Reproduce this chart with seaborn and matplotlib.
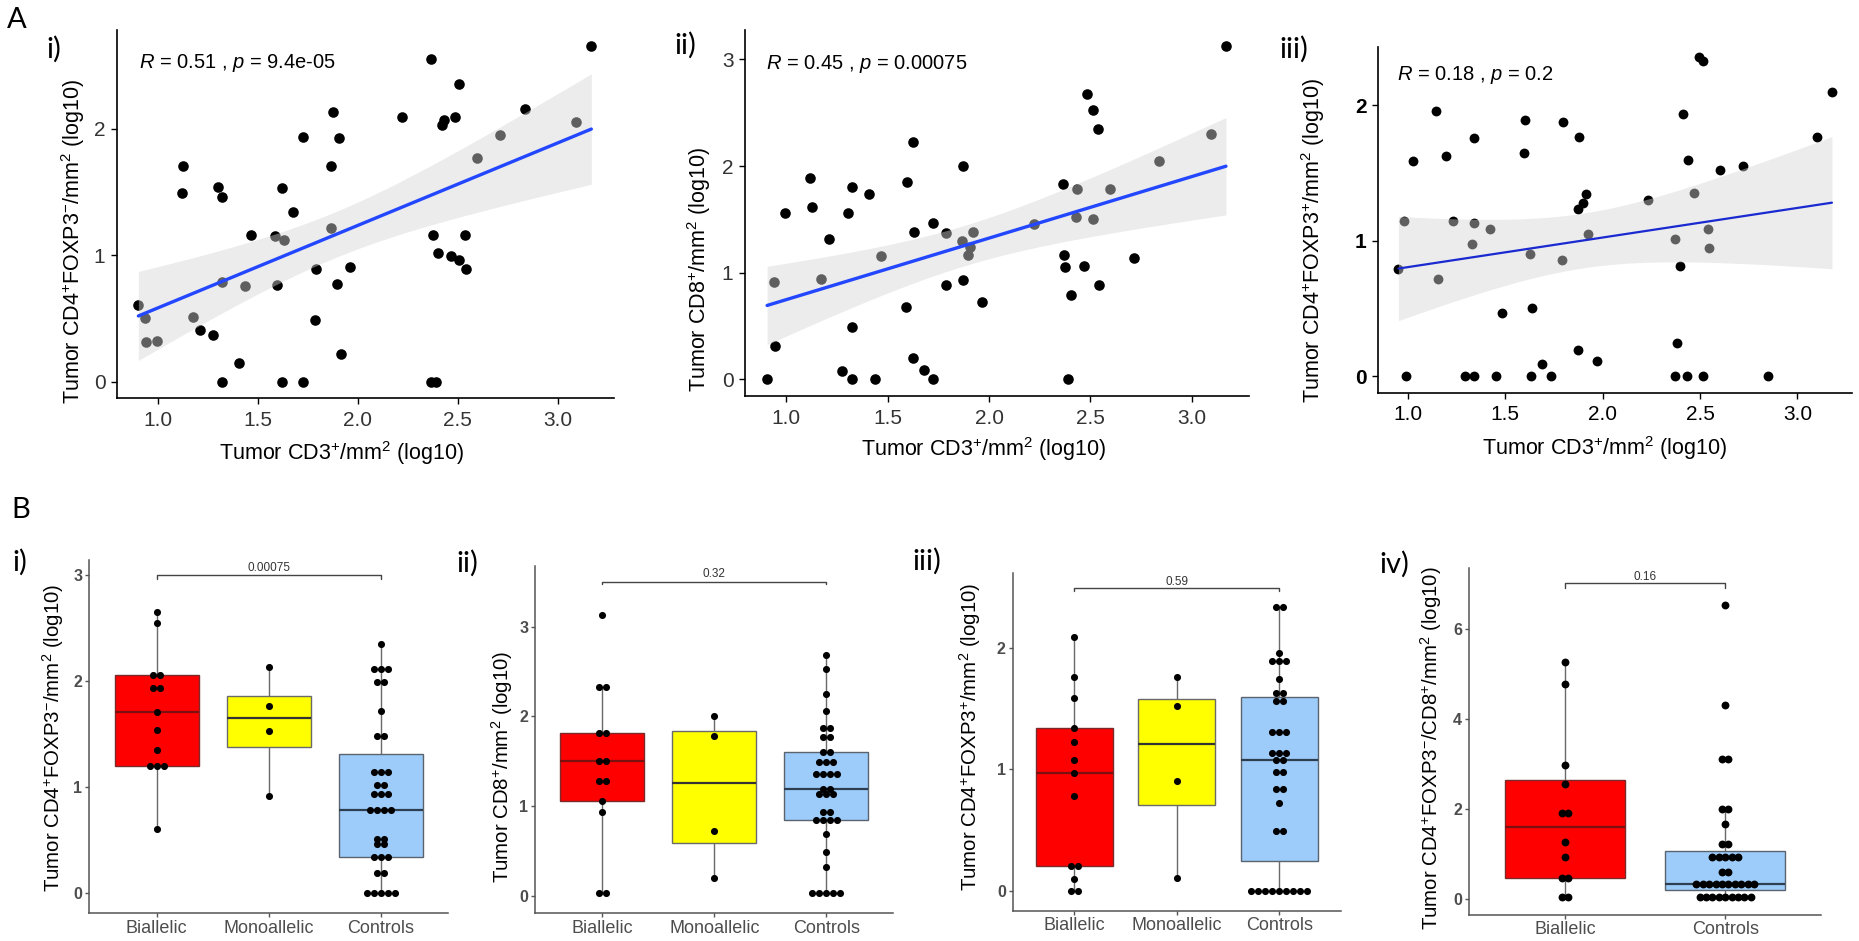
import numpy as np
import pandas as pd
import matplotlib
matplotlib.use('Agg')
import matplotlib.pyplot as plt
import seaborn as sns

sns.set_theme(style='white')
plt.rcParams['font.family'] = ['Liberation Sans', 'DejaVu Sans']
plt.rcParams['mathtext.fontset'] = 'custom'
plt.rcParams['mathtext.rm'] = 'Liberation Sans'
plt.rcParams['mathtext.it'] = 'Liberation Sans:italic'
plt.rcParams['mathtext.bf'] = 'Liberation Sans:bold'

# ---------------- DATA ----------------
# Panel A i : CD3 vs CD4+FOXP3-
ai_x = [3.168, 2.364, 2.508, 1.874, 2.221, 2.430, 2.420, 2.484, 2.838, 1.723,
        1.903, 1.866, 1.123, 1.117, 1.302, 1.320, 1.621, 1.676, 1.466, 2.374,
        2.534, 2.401, 2.464, 2.508, 2.540, 1.789, 1.962, 1.593, 1.895, 0.901,
        1.211, 1.275, 1.785, 1.405, 1.917, 1.322, 1.621, 1.723, 2.364, 2.391,
        3.093, 2.713, 2.597, 1.866, 1.587, 1.628, 1.320, 1.437, 0.935, 1.172,
        0.941, 0.994]
ai_y = [2.657, 2.551, 2.354, 2.135, 2.092, 2.070, 2.030, 2.092, 2.153, 1.937,
        1.929, 1.704, 1.704, 1.496, 1.538, 1.462, 1.530, 1.343, 1.158, 1.164,
        1.164, 1.016, 0.997, 0.963, 0.889, 0.894, 0.908, 0.765, 0.776, 0.610,
        0.414, 0.372, 0.488, 0.150, 0.222, 0.0, 0.0, 0.0, 0.0, 0.0,
        2.050, 1.950, 1.770, 1.219, 1.156, 1.121, 0.792, 0.760, 0.509, 0.515,
        0.317, 0.325]

# Panel A ii : CD3 vs CD8
aii_x = [3.168, 2.485, 2.511, 2.536, 1.624, 1.873, 1.117, 1.595, 1.322, 1.407,
         2.365, 0.996, 1.304, 1.127, 1.211, 1.723, 1.630, 2.368, 2.376, 2.468,
         2.715, 1.786, 1.870, 2.540, 2.404, 1.965, 1.589, 0.943, 1.322, 1.624,
         1.277, 1.678, 0.906, 1.324, 1.439, 1.723, 2.390,
         3.094, 2.840, 2.433, 2.598, 2.427, 2.511, 2.222, 1.789, 1.920, 1.867,
         1.904, 1.897, 1.468, 1.173, 0.938]
aii_y = [3.125, 2.675, 2.525, 2.344, 2.228, 1.997, 1.888, 1.850, 1.806, 1.738,
         1.831, 1.563, 1.563, 1.619, 1.319, 1.463, 1.381, 1.169, 1.056, 1.063,
         1.134, 0.881, 0.931, 0.888, 0.794, 0.725, 0.681, 0.313, 0.488, 0.197,
         0.075, 0.088, 0.0, 0.0, 0.0, 0.0, 0.0,
         2.300, 2.050, 1.788, 1.781, 1.519, 1.506, 1.456, 1.369, 1.384, 1.300,
         1.244, 1.169, 1.156, 0.938, 0.909]

# Panel A iii : CD3 vs CD4+FOXP3+
aiii_x = [2.492, 2.513, 3.177, 1.146, 1.603, 1.798, 2.411, 1.341, 1.879, 3.102,
          1.028, 1.197, 1.597, 2.436, 2.604, 2.720, 1.916, 1.900, 1.873, 2.230,
          2.397, 1.481, 1.638, 2.379, 1.873, 1.973, 1.690, 0.988, 1.294, 1.341,
          1.451, 1.631, 1.733, 2.371, 2.431, 2.515, 2.848,
          2.468, 0.980, 1.231, 1.341, 1.422, 2.539, 1.924, 2.373, 1.327, 2.545,
          1.629, 1.792, 1.152, 0.951]
aiii_y = [2.360, 2.330, 2.101, 1.958, 1.889, 1.877, 1.938, 1.759, 1.768, 1.768,
          1.586, 1.628, 1.648, 1.596, 1.525, 1.549, 1.347, 1.276, 1.236, 1.298,
          0.815, 0.463, 0.502, 0.241, 0.192, 0.111, 0.089, 0.0, 0.0, 0.0,
          0.0, 0.0, 0.0, 0.0, 0.0, 0.0, 0.0,
          1.355, 1.143, 1.148, 1.128, 1.084, 1.084, 1.047, 1.015, 0.973, 0.943,
          0.901, 0.857, 0.714, 0.788]

stat_labels = [r'$R$ = 0.51 , $p$ = 9.4e-05',
               r'$R$ = 0.45 , $p$ = 0.00075',
               r'$R$ = 0.18 , $p$ = 0.2']

# Panel B : groups
groups3 = ['Biallelic', 'Monoallelic', 'Controls']
groups2 = ['Biallelic', 'Controls']

bi_biallelic = [2.654, 2.550, 2.055, 2.055, 1.935, 1.935, 1.711, 1.538, 1.346,
                1.194, 1.194, 1.194, 0.605]
bi_mono = [2.134, 1.768, 1.532, 0.914]
bi_controls = [2.351, 2.115, 2.115, 2.115, 1.989, 1.989, 1.718, 1.484, 1.484,
               1.144, 1.144, 1.144, 1.018, 1.018, 0.930, 0.930, 0.930,
               0.785, 0.785, 0.785, 0.785, 0.511, 0.511, 0.460, 0.460,
               0.340, 0.340, 0.340, 0.189, 0.189, 0.0, 0.0, 0.0, 0.0, 0.0]

bii_biallelic = [3.134, 2.325, 2.325, 1.812, 1.812, 1.500, 1.500, 1.277, 1.277,
                 1.058, 0.936, 0.037, 0.037]
bii_mono = [2.005, 1.786, 0.724, 0.197]
bii_controls = [2.685, 2.529, 2.247, 2.061, 1.875, 1.875, 1.775, 1.775,
                1.608, 1.608, 1.496, 1.496, 1.496, 1.355, 1.355, 1.355, 1.355,
                1.188, 1.188, 1.133, 1.133, 1.133, 0.932, 0.932,
                0.847, 0.847, 0.847, 0.847, 0.691, 0.494, 0.319,
                0.030, 0.030, 0.030, 0.030, 0.030]

biii_biallelic = [2.088, 1.759, 1.589, 1.337, 1.222, 1.079, 0.970, 0.781,
                  0.205, 0.205, 0.099, 0.0, 0.0]
biii_mono = [1.759, 1.518, 0.904, 0.107]
biii_controls = [2.332, 2.332, 1.953, 1.893, 1.893, 1.893, 1.745, 1.625, 1.625,
                 1.562, 1.562, 1.310, 1.310, 1.310, 1.132, 1.132, 1.132,
                 1.075, 1.075, 0.978, 0.978, 0.838, 0.838, 0.721, 0.493, 0.493,
                 0.0, 0.0, 0.0, 0.0, 0.0, 0.0, 0.0, 0.0, 0.0]

biv_biallelic = [5.262, 4.767, 2.979, 2.550, 1.922, 1.922, 1.271, 0.931,
                 0.470, 0.470, 0.044, 0.044]
biv_controls = [6.519, 4.302, 3.104, 3.104, 2.003, 2.003, 1.670, 1.219, 1.219,
                0.939, 0.939, 0.939, 0.939, 0.939, 0.606, 0.606,
                0.347, 0.347, 0.347, 0.347, 0.347, 0.347, 0.347, 0.347, 0.347, 0.347,
                0.059, 0.059, 0.059, 0.059, 0.059, 0.059, 0.059, 0.059, 0.059]

p_values = ['0.00075', '0.32', '0.59', '0.16']

PALETTE = {'Biallelic': '#FF0000', 'Monoallelic': '#FFFF00', 'Controls': '#9DCCFA'}
MEDCOL = {'Biallelic': '#7a1010', 'Monoallelic': '#333333', 'Controls': '#2d3e50'}
EDGECOL = {'Biallelic': '#7a2a2a', 'Monoallelic': '#6a6a6a', 'Controls': '#5a6470'}

# ---------------- FIGURE ----------------
W, H = 1859, 941
fig = plt.figure(figsize=(W / 100, H / 100), dpi=100)


def px_axes(l, r, t, b):
    return fig.add_axes([l / W, 1 - b / H, (r - l) / W, (b - t) / H])


def t975(df):
    z = 1.959964
    return z + (z ** 3 + z) / (4 * df) + (5 * z ** 5 + 16 * z ** 3 + 3 * z) / (96 * df ** 2)


def scatter_panel(ax, x, y, xlim, ylim, yticks, ylabel, stat, stat_xy, ms,
                  line_color, lw, ylab_xy, xlab_xy, bold_ticks=False):
    x = np.asarray(x, float)
    y = np.asarray(y, float)
    df = pd.DataFrame({'x': x, 'y': y})
    sns.scatterplot(data=df, x='x', y='y', ax=ax, color='black', s=ms,
                    linewidth=0, zorder=2)
    n = len(x)
    b1, b0 = np.polyfit(x, y, 1)
    xm = x.mean()
    sxx = np.sum((x - xm) ** 2)
    s = np.sqrt(np.sum((y - (b0 + b1 * x)) ** 2) / (n - 2))
    xs = np.linspace(x.min(), x.max(), 200)
    fit = b0 + b1 * xs
    se = s * np.sqrt(1 / n + (xs - xm) ** 2 / sxx)
    tq = t975(n - 2)
    ax.fill_between(xs, fit - tq * se, fit + tq * se, color=(213 / 255,) * 3,
                    alpha=0.45, linewidth=0, zorder=3)
    sns.regplot(data=df, x='x', y='y', ax=ax, scatter=False, ci=None,
                color=line_color, line_kws={'lw': lw, 'zorder': 4})
    ax.set_xlim(*xlim)
    ax.set_ylim(*ylim)
    ax.set_xticks([1.0, 1.5, 2.0, 2.5, 3.0])
    ax.set_xticklabels(['1.0', '1.5', '2.0', '2.5', '3.0'])
    ax.set_yticks(yticks)
    ax.set_yticklabels([str(v) for v in yticks])
    for sp in ['top', 'right']:
        ax.spines[sp].set_visible(False)
    for sp in ['left', 'bottom']:
        ax.spines[sp].set_color('black')
        ax.spines[sp].set_linewidth(1.2)
    ax.tick_params(axis='both', length=4, width=1, color='black',
                   labelsize=15, labelcolor='black' if bold_ticks else '#333333',
                   bottom=True, left=True)
    ax.tick_params(axis='x', pad=5)
    ax.tick_params(axis='y', pad=4)
    if bold_ticks:
        for lab in ax.get_yticklabels():
            lab.set_fontweight('bold')
    ax.set_xlabel(r'Tumor CD3$^{+}$/mm$^{2}$ (log10)', fontsize=15.5, color='black')
    ax.set_ylabel(ylabel, fontsize=15.5, color='black')
    ax.xaxis.set_label_coords(*xlab_xy)
    ax.yaxis.set_label_coords(*ylab_xy)
    ax.xaxis.label.set_va('center')
    ax.yaxis.label.set_va('center')
    ax.grid(False)
    ax.text(stat_xy[0], stat_xy[1], stat, fontsize=14.5, ha='left', va='center',
            color='black')


def box_panel(ax, groups, values, ylim, yticks, ylabel, ylab_xy, pval,
              bar_y, bar_drop, text_y, dot_px, dot_s):
    rows = []
    for g in groups:
        for v in values[g]:
            rows.append((g, v))
    df = pd.DataFrame(rows, columns=['group', 'value'])
    sns.boxplot(data=df, x='group', y='value', hue='group', order=groups,
                hue_order=groups, palette=PALETTE, saturation=1, dodge=False,
                width=0.75, showfliers=False, showcaps=False, whis=1.5,
                linecolor='#5a5a5a', linewidth=1.0, legend=False, ax=ax)
    try:
        for cont, g in zip(ax.containers, groups):
            for m in cont.medians:
                m.set_color(MEDCOL[g])
                m.set_linewidth(1.6)
            for b in cont.boxes:
                b.set_edgecolor(EDGECOL[g])
            for w in cont.whiskers:
                w.set_color('#6a6a6a')
    except Exception:
        pass
    xlim = (-0.6, len(groups) - 1 + 0.6)
    ax.set_xlim(*xlim)
    ax.set_ylim(*ylim)
    axw_px = ax.get_position().width * W
    dx = dot_px / (axw_px / (xlim[1] - xlim[0]))
    xs, ys = [], []
    for i, g in enumerate(groups):
        vals = np.asarray(values[g], float)
        for v in np.unique(vals):
            k = int(np.sum(vals == v))
            offs = (np.arange(k) - (k - 1) / 2) * dx
            xs.extend(list(i + offs))
            ys.extend([v] * k)
    sns.scatterplot(x=np.array(xs), y=np.array(ys), ax=ax, color='black',
                    s=dot_s, linewidth=0, zorder=5)
    ax.set_xlim(*xlim)
    ax.set_ylim(*ylim)
    x0, x1 = 0, len(groups) - 1
    ax.plot([x0, x0, x1, x1], [bar_drop, bar_y, bar_y, bar_drop],
            color='#444444', lw=1.0, zorder=6)
    ax.text((x0 + x1) / 2, text_y, pval, ha='center', va='center',
            fontsize=8.5, color='#333333')
    ax.set_xticks(range(len(groups)))
    ax.set_xticklabels(groups)
    ax.set_yticks(yticks)
    ax.set_yticklabels([str(v) for v in yticks])
    for sp in ['top', 'right']:
        ax.spines[sp].set_visible(False)
    for sp in ['left', 'bottom']:
        ax.spines[sp].set_color('#555555')
        ax.spines[sp].set_linewidth(1.1)
    ax.tick_params(axis='both', length=3, width=1, color='#555555',
                   bottom=True, left=True)
    ax.tick_params(axis='x', labelsize=13, labelcolor='#4d4d4d', pad=1.5)
    ax.tick_params(axis='y', labelsize=11.5, labelcolor='#4d4d4d', pad=2)
    for lab in ax.get_yticklabels():
        lab.set_fontweight('bold')
    ax.set_xlabel('')
    ax.set_ylabel(ylabel, fontsize=14.7, color='black')
    ax.yaxis.set_label_coords(*ylab_xy)
    ax.yaxis.label.set_va('center')
    ax.grid(False)


# ---- Panel A ----
axA1 = px_axes(116.6, 613.7, 30.0, 398.3)
scatter_panel(axA1, ai_x, ai_y, (0.792, 3.28), (-0.129, 2.78), [0, 1, 2],
              r'Tumor CD4$^{+}$FOXP3$^{-}$/mm$^{2}$ (log10)', stat_labels[0],
              (0.905, 2.52), 58, '#2346ff', 2.4, (-0.0877, 0.425), (0.453, -0.149))

axA2 = px_axes(744.6, 1248.7, 30.0, 396.0)
scatter_panel(axA2, aii_x, aii_y, (0.795, 3.28), (-0.156, 3.275), [0, 1, 2, 3],
              r'Tumor CD8$^{+}$/mm$^{2}$ (log10)', stat_labels[1],
              (0.900, 2.96), 58, '#2346ff', 2.4, (-0.0905, 0.345), (0.475, -0.146))

axA3 = px_axes(1377.6, 1852.0, 46.7, 392.7)
scatter_panel(axA3, aiii_x, aiii_y, (0.844, 3.28), (-0.123, 2.433), [0, 1, 2],
              r'Tumor CD4$^{+}$FOXP3$^{+}$/mm$^{2}$ (log10)', stat_labels[2],
              (0.945, 2.224), 50, '#1a2ad0', 1.6, (-0.136, 0.439), (0.479, -0.161),
              bold_ticks=True)

# ---- Panel B ----
axB1 = px_axes(89.3, 448.3, 560.0, 913.3)
box_panel(axB1, groups3, {'Biallelic': bi_biallelic, 'Monoallelic': bi_mono,
                          'Controls': bi_controls},
          (-0.195, 3.145), [0, 1, 2, 3],
          r'Tumor CD4$^{+}$FOXP3$^{-}$/mm$^{2}$ (log10)', (-0.100, 0.498),
          p_values[0], 3.0, 2.97, 3.066, 7.0, 26)

axB2 = px_axes(535.3, 893.3, 566.0, 913.3)
box_panel(axB2, groups3, {'Biallelic': bii_biallelic, 'Monoallelic': bii_mono,
                          'Controls': bii_controls},
          (-0.193, 3.676), [0, 1, 2, 3],
          r'Tumor CD8$^{+}$/mm$^{2}$ (log10)', (-0.094, 0.422),
          p_values[1], 3.502, 3.47, 3.583, 7.0, 26)

axB3 = px_axes(1012.7, 1340.7, 573.3, 910.7)
box_panel(axB3, groups3, {'Biallelic': biii_biallelic, 'Monoallelic': biii_mono,
                          'Controls': biii_controls},
          (-0.162, 2.611), [0, 1, 2],
          r'Tumor CD4$^{+}$FOXP3$^{+}$/mm$^{2}$ (log10)', (-0.130, 0.516),
          p_values[2], 2.490, 2.466, 2.542, 7.0, 26)

axB4 = px_axes(1469.0, 1821.3, 568.0, 915.0)
box_panel(axB4, groups2, {'Biallelic': biv_biallelic, 'Controls': biv_controls},
          (-0.347, 7.347), [0, 2, 4, 6],
          r'Tumor CD4$^{+}$FOXP3$^{-}$/CD8$^{+}$/mm$^{2}$ (log10)', (-0.109, 0.481),
          p_values[3], 7.007, 6.90, 7.15, 6.4, 32)

# ---- Panel labels ----
LABFONT = ['Lato', 'Liberation Sans', 'DejaVu Sans']


def plabel(txt, cx, cy, size):
    fig.text(cx / W, 1 - cy / H, txt, ha='center', va='center', fontsize=size,
             family=LABFONT, color='black')


plabel('A', 17, 20, 21)
plabel('i)', 54, 49, 21)
plabel('ii)', 685, 45, 21)
plabel('iii)', 1294, 49, 21)
plabel('B', 21, 510, 21)
plabel('i)', 20, 562, 21)
plabel('ii)', 467, 563, 21)
plabel('iii)', 927, 561, 21)
plabel('iv)', 1394, 564, 21)

fig.savefig('out.png', dpi=100)
